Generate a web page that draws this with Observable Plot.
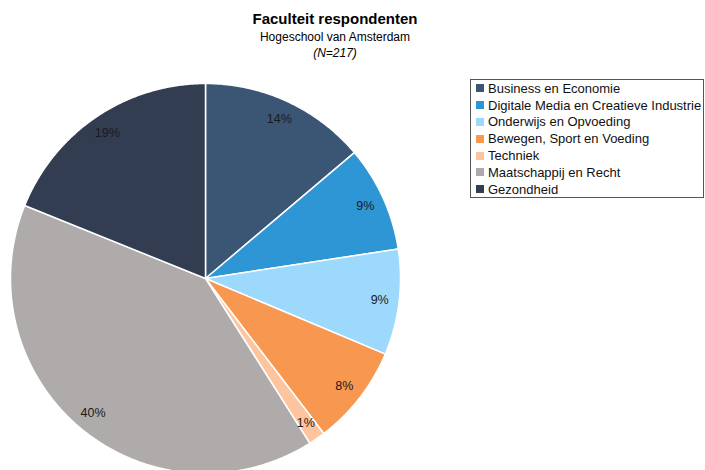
<!DOCTYPE html>
<html>
<head>
<meta charset="utf-8">
<script src="https://cdn.jsdelivr.net/npm/d3@7"></script>
<script src="https://cdn.jsdelivr.net/npm/@observablehq/plot@0.6"></script>
<style>
  body { margin: 0; background: #fff; font-family: "Liberation Sans", Arial, sans-serif; }
  #wrap { position: relative; width: 705px; height: 470px; overflow: hidden; }
  #title { position: absolute; left: 0; top: 9px; width: 670px; text-align: center; color: #000; }
  #title .t { font-weight: bold; font-size: 15px; line-height: 20px; }
  #title .s { font-size: 12px; line-height: 16px; }
  #title .n { font-size: 12px; line-height: 16px; font-style: italic; }
  #chart { position: absolute; left: 0; top: 70px; }
  #legend { position: absolute; left: 470px; top: 79px; width: 234px; height: 119px; border: 1px solid #555; box-sizing: border-box; padding: 0 0 0 5px; }
  .li { display: flex; align-items: center; height: 16.8px; font-size: 13px; color: #111; white-space: nowrap; }
  .sw { width: 8px; height: 8px; margin-right: 4px; flex: none; }
</style>
</head>
<body>
<div id="wrap">
  <div id="title">
    <div class="t">Faculteit respondenten</div>
    <div class="s">Hogeschool van Amsterdam</div>
    <div class="n">(N=217)</div>
  </div>
  <div id="chart"></div>
  <div id="legend"></div>
</div>
<script>
const categories = [
  "Business en Economie",
  "Digitale Media en Creatieve Industrie",
  "Onderwijs en Opvoeding",
  "Bewegen, Sport en Voeding",
  "Techniek",
  "Maatschappij en Recht",
  "Gezondheid"
];
const counts = [30, 19, 19, 18, 3, 87, 41];
const labels = ["14%", "9%", "9%", "8%", "1%", "40%", "19%"];
const colors = ["#3b5675", "#2e96d4", "#9dd9fd", "#f79750", "#fdc49e", "#afabaa", "#333d51"];

const pie = d3.pie().sort(null).value(d => d)(counts);

// polygon outline of each slice, in unit-radius data space (clockwise from top)
const outline = [];
pie.forEach((p, i) => {
  const name = categories[i];
  outline.push({name, x: 0, y: 0});
  const steps = Math.max(4, Math.ceil((p.endAngle - p.startAngle) / 0.008));
  for (let k = 0; k <= steps; k++) {
    const a = p.startAngle + (p.endAngle - p.startAngle) * k / steps;
    outline.push({name, x: Math.sin(a), y: Math.cos(a)});
  }
  outline.push({name, x: 0, y: 0});
});
const labelPts = pie.map((p, i) => {
  const a = (p.startAngle + p.endAngle) / 2;
  return {name: categories[i], label: labels[i], x: 0.9 * Math.sin(a), y: 0.9 * Math.cos(a)};
});

const R = 195, cx = 205, cy = 208, W = 705, H = 400;
const chart = Plot.plot({
  width: W,
  height: H,
  margin: 0,
  x: {domain: [-cx / R, (W - cx) / R], range: [0, W], axis: null},
  y: {domain: [-(H - cy) / R, cy / R], range: [H, 0], axis: null},
  color: {domain: categories, range: colors},
  style: {fontFamily: "'Liberation Sans', Arial, sans-serif", background: "transparent"},
  marks: [
    Plot.line(outline, {x: "x", y: "y", z: "name", fill: "name", stroke: "#fff", strokeWidth: 1.5, curve: "linear"}),
    Plot.text(labelPts, {x: "x", y: "y", text: "label", fill: "#1a1a1a", fontSize: 12.5})
  ]
});
document.getElementById("chart").appendChild(chart);

const legend = d3.select("#legend");
categories.forEach((c, i) => {
  const row = legend.append("div").attr("class", "li");
  row.append("span").attr("class", "sw").style("background", chart.scale("color").apply(c));
  row.append("span").text(c);
});
</script>
</body>
</html>
